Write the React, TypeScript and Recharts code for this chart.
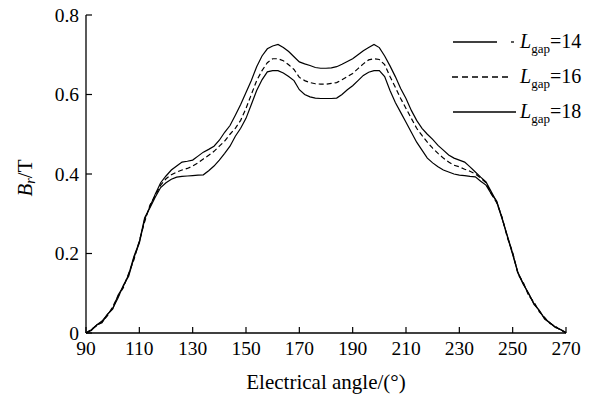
import React from "react";
import { LineChart, Line, XAxis, YAxis } from "recharts";

const angles = [
  90, 92, 94, 96, 98, 100, 102, 104, 106, 108, 110, 112, 114, 116,
  118, 120, 122, 124, 126, 128, 130, 132, 134, 136, 138, 140, 142, 144, 146, 148,
  150, 152, 154, 156, 158, 160, 162, 164, 166, 168, 170, 172, 174, 176, 178, 180,
  182, 184, 186, 188, 190, 192, 194, 196, 198, 200, 202, 204, 206, 208, 210, 212,
  214, 216, 218, 220, 222, 224, 226, 228, 230, 232, 234, 236, 238, 240, 242,
  244, 246, 248, 250, 252, 254, 256, 258, 260, 262, 264, 266, 268, 270,
];

const l14 = [
  0, 0.008, 0.02, 0.03, 0.046, 0.062, 0.088, 0.12, 0.143, 0.19, 0.226, 0.286, 0.318, 0.35,
  0.378, 0.395, 0.41, 0.42, 0.43, 0.432, 0.435, 0.445, 0.455, 0.462, 0.47, 0.485, 0.505, 0.522, 0.548, 0.575,
  0.605, 0.635, 0.67, 0.697, 0.715, 0.722, 0.726, 0.718, 0.708, 0.695, 0.682, 0.677, 0.673, 0.668, 0.666, 0.666,
  0.667, 0.67, 0.676, 0.683, 0.69, 0.7, 0.71, 0.718, 0.726, 0.718, 0.697, 0.672, 0.645, 0.615, 0.59, 0.56,
  0.535, 0.515, 0.5, 0.487, 0.472, 0.46, 0.448, 0.44, 0.435, 0.43, 0.418, 0.405, 0.392, 0.38, 0.355,
  0.33, 0.288, 0.245, 0.2, 0.152, 0.124, 0.098, 0.074, 0.056, 0.036, 0.026, 0.015, 0.008, 0.001,
];

const l16 = [
  0, 0.009, 0.018, 0.028, 0.043, 0.066, 0.092, 0.114, 0.15, 0.185, 0.232, 0.28, 0.322, 0.346,
  0.372, 0.388, 0.398, 0.405, 0.41, 0.414, 0.42, 0.428, 0.438, 0.447, 0.457, 0.47, 0.483, 0.5, 0.515, 0.535,
  0.565, 0.6, 0.635, 0.66, 0.68, 0.69, 0.69, 0.685, 0.675, 0.663, 0.643, 0.635, 0.63, 0.627, 0.626, 0.626,
  0.628, 0.63, 0.637, 0.645, 0.653, 0.665, 0.677, 0.687, 0.69, 0.688, 0.675, 0.645, 0.618, 0.59, 0.565, 0.54,
  0.515, 0.497, 0.48, 0.465, 0.452, 0.44, 0.43, 0.422, 0.418, 0.412, 0.407, 0.4, 0.39, 0.378, 0.35,
  0.328, 0.292, 0.24, 0.203, 0.148, 0.127, 0.094, 0.078, 0.053, 0.039, 0.024, 0.017, 0.007, 0,
];

const l18 = [
  0, 0.006, 0.02, 0.026, 0.047, 0.06, 0.095, 0.117, 0.147, 0.193, 0.229, 0.29, 0.315, 0.342,
  0.366, 0.378, 0.387, 0.392, 0.394, 0.395, 0.396, 0.397, 0.398, 0.408, 0.42, 0.435, 0.452, 0.47, 0.495, 0.515,
  0.54, 0.575, 0.61, 0.637, 0.657, 0.66, 0.66, 0.654, 0.645, 0.635, 0.612, 0.6, 0.594, 0.591, 0.59, 0.59,
  0.59, 0.591, 0.6, 0.612, 0.622, 0.635, 0.648, 0.656, 0.66, 0.66, 0.645, 0.61, 0.58, 0.555, 0.53, 0.505,
  0.48, 0.46, 0.44, 0.428, 0.418, 0.41, 0.405, 0.4, 0.397, 0.396, 0.394, 0.393, 0.382, 0.372, 0.35,
  0.332, 0.29, 0.243, 0.197, 0.15, 0.122, 0.1, 0.072, 0.057, 0.035, 0.025, 0.014, 0.009, 0.001,
];

const xTicks = [90, 110, 130, 150, 170, 190, 210, 230, 250, 270];
const yTicks = [0, 0.2, 0.4, 0.6, 0.8];
const gaps = ["14", "16", "18"];

const data = angles.map((a, i) => ({ angle: a, l14: l14[i], l16: l16[i], l18: l18[i] }));

const FONT = "Liberation Serif";

const XTick = (props: any) => {
  const { x, y, payload } = props;
  return (
    <g>
      <line x1={x} y1={y} x2={x} y2={y - 6} stroke="#000" strokeWidth={1.2} />
      <text x={x} y={y + 22} textAnchor="middle" fontFamily={FONT} fontSize={19.5} fill="#000">
        {payload.value}
      </text>
    </g>
  );
};

const YTick = (props: any) => {
  const { x, y, payload } = props;
  return (
    <g>
      <line x1={x} y1={y} x2={x + 6} y2={y} stroke="#000" strokeWidth={1.2} />
      <text x={x - 7} y={y} dy="0.34em" textAnchor="end" fontFamily={FONT} fontSize={19.5} fill="#000">
        {payload.value}
      </text>
    </g>
  );
};

const XLabel = (props: any) => {
  const vb = props.viewBox;
  return (
    <text x={vb.x + vb.width / 2} y={vb.y + 56} textAnchor="middle" fontFamily={FONT} fontSize={21} fill="#000">
      Electrical angle/(°)
    </text>
  );
};

const YLabel = (props: any) => {
  const vb = props.viewBox;
  const cx = vb.x - 1;
  const cy = vb.y + vb.height / 2 + 4;
  return (
    <text
      x={cx}
      y={cy}
      transform={`rotate(-90, ${cx}, ${cy})`}
      textAnchor="middle"
      dominantBaseline="central"
      fontFamily={FONT}
      fontSize={21}
      fill="#000"
    >
      <tspan fontStyle="italic">B</tspan>
      <tspan fontStyle="italic" fontSize={14} dy={5}>r</tspan>
      <tspan dy={-5}>/T</tspan>
    </text>
  );
};

const LegendBox = () => (
  <svg width={150} height={110} style={{ position: "absolute", left: 450, top: 25, overflow: "visible" }}>
    {gaps.map((g, i) => {
      const ly = 17 + i * 35;
      return (
        <g key={g}>
          {i === 0 && (
            <>
              <line x1={3} y1={ly} x2={47} y2={ly} stroke="#000" strokeWidth={1.3} />
              <line x1={61} y1={ly} x2={64} y2={ly} stroke="#000" strokeWidth={1.3} />
            </>
          )}
          {i === 1 && (
            <line x1={2} y1={ly} x2={60} y2={ly} stroke="#000" strokeWidth={1.3} strokeDasharray="6 4" />
          )}
          {i === 2 && <line x1={3} y1={ly} x2={66} y2={ly} stroke="#000" strokeWidth={1.3} />}
          <text x={70} y={ly + 6} fontFamily={FONT} fontSize={20} fill="#000">
            <tspan fontStyle="italic">L</tspan>
            <tspan fontSize={13} dy={5}>gap</tspan>
            <tspan dy={-5}>={g}</tspan>
          </text>
        </g>
      );
    })}
  </svg>
);

export default function App() {
  return (
    <div
      style={{
        position: "absolute",
        left: 0,
        top: 0,
        width: 595,
        height: 398,
        background: "#fff",
        fontFamily: "'Liberation Serif', serif",
      }}
    >
      <LineChart width={595} height={398} data={data} margin={{ top: 15, right: 29, bottom: 0, left: 26 }}>
        <XAxis
          dataKey="angle"
          type="number"
          domain={[90, 270]}
          ticks={xTicks}
          height={65}
          tickSize={0}
          tickMargin={0}
          tickLine={false}
          axisLine={{ stroke: "#000", strokeWidth: 1.3 }}
          tick={<XTick />}
          label={<XLabel />}
        />
        <YAxis
          type="number"
          domain={[0, 0.8]}
          ticks={yTicks}
          width={60}
          tickSize={0}
          tickMargin={0}
          tickLine={false}
          axisLine={{ stroke: "#000", strokeWidth: 1.3 }}
          tick={<YTick />}
          label={<YLabel />}
        />
        <Line dataKey="l14" stroke="#000" strokeWidth={1.2} dot={false} isAnimationActive={false} />
        <Line dataKey="l16" stroke="#000" strokeWidth={1.2} strokeDasharray="5 3" dot={false} isAnimationActive={false} />
        <Line dataKey="l18" stroke="#000" strokeWidth={1.2} dot={false} isAnimationActive={false} />
      </LineChart>
      <LegendBox />
    </div>
  );
}
